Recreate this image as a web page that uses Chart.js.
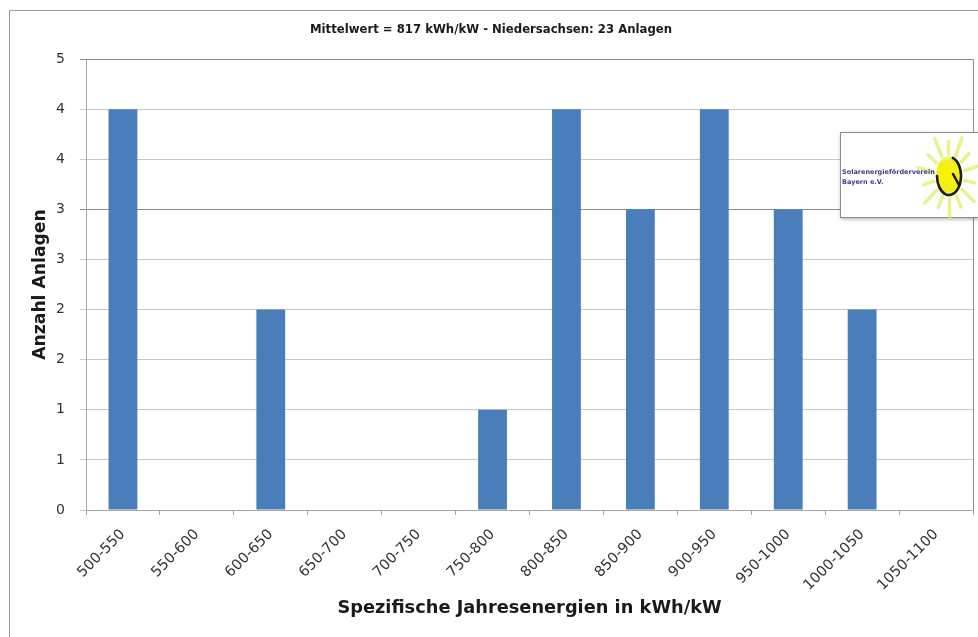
<!DOCTYPE html>
<html>
<head>
<meta charset="utf-8">
<script src="https://cdn.jsdelivr.net/npm/chart.js@4.4.0/dist/chart.umd.min.js"></script>
<style>
  html, body { margin: 0; padding: 0; background: #ffffff; }
  #wrap { width: 978px; height: 637px; position: relative; }
</style>
</head>
<body>
<div id="wrap"><canvas id="c" width="978" height="637"></canvas></div>
<script>
// Verteilung der spezifischen Jahreserträge
const categories = ['500-550', '550-600', '600-650', '650-700', '700-750', '750-800',
                    '800-850', '850-900', '900-950', '950-1000', '1000-1050', '1050-1100'];
const anlagen = [4, 0, 2, 0, 0, 1, 4, 3, 4, 3, 2, 0];
const yTickLabels = ['0', '1', '1', '2', '2', '3', '3', '4', '4', '5'];
const chartTitle = 'Mittelwert = 817 kWh/kW - Niedersachsen: 23 Anlagen';
const xTitle = 'Spezifische Jahresenergien in kWh/kW';
const yTitle = 'Anzahl Anlagen';
const logoLines = ['Solarenergieförderverein', 'Bayern e.V.'];

const FONT = '"DejaVu Sans", "Open Sans", sans-serif';

// Rahmen um das Diagramm und die Zeichenfläche
const framePlugin = {
  id: 'frame',
  beforeDraw(chart) {
    const ctx = chart.ctx;
    ctx.save();
    ctx.fillStyle = '#ffffff';
    ctx.fillRect(0, 0, chart.width, chart.height);
    ctx.strokeStyle = '#9a9a9a';
    ctx.lineWidth = 1;
    ctx.strokeRect(9.5, 10.5, chart.width + 20, chart.height + 20);
    ctx.restore();
  },
  afterDraw(chart) {
    const ctx = chart.ctx;
    const a = chart.chartArea;
    ctx.save();
    ctx.strokeStyle = '#8c8c8c';
    ctx.lineWidth = 1;
    ctx.beginPath();
    ctx.moveTo(a.left, Math.round(a.top) + 0.5);
    ctx.lineTo(Math.round(a.right) + 0.5, Math.round(a.top) + 0.5);
    ctx.lineTo(Math.round(a.right) + 0.5, a.bottom);
    ctx.stroke();
    ctx.restore();
  }
};

// Vereinslogo rechts oben
const logoPlugin = {
  id: 'logo',
  afterDraw(chart) {
    const ctx = chart.ctx;
    const x = 840, y = 132, w = 140, h = 85;
    ctx.save();
    ctx.shadowColor = 'rgba(0,0,0,0.35)';
    ctx.shadowBlur = 4;
    ctx.shadowOffsetX = 1;
    ctx.shadowOffsetY = 2;
    ctx.fillStyle = '#ffffff';
    ctx.fillRect(x, y, w, h);
    ctx.shadowColor = 'transparent';
    ctx.strokeStyle = '#8a8a8a';
    ctx.lineWidth = 1;
    ctx.strokeRect(x + 0.5, y + 0.5, w, h);

    // Sonne mit Strahlen
    const cx = 949, cy = 176;
    ctx.strokeStyle = 'rgba(222, 240, 90, 0.7)';
    ctx.lineCap = 'round';
    for (let i = 0; i < 14; i++) {
      const ang = (i / 14) * Math.PI * 2 + 0.2;
      const ex = Math.cos(ang), ey = Math.sin(ang);
      const r2 = 1.45 + (i % 2) * 0.3;
      ctx.lineWidth = 3.5;
      ctx.beginPath();
      ctx.moveTo(cx + ex * 16, cy + ey * 22);
      ctx.lineTo(cx + ex * 18 * r2, cy + ey * 24 * r2);
      ctx.stroke();
    }
    const g = ctx.createRadialGradient(cx - 2, cy, 2, cx, cy, 20);
    g.addColorStop(0, '#f8f400');
    g.addColorStop(0.75, '#f0ee20');
    g.addColorStop(1, 'rgba(230,240,80,0.5)');
    ctx.fillStyle = g;
    ctx.beginPath();
    ctx.ellipse(cx, cy, 13, 20, 0, 0, Math.PI * 2);
    ctx.fill();
    ctx.strokeStyle = '#1e1e1e';
    ctx.lineWidth = 2.6;
    ctx.beginPath();
    ctx.ellipse(cx, cy, 12, 19, 0, -1.25, Math.PI * 1.0);
    ctx.stroke();
    ctx.beginPath();
    ctx.moveTo(cx + 4, cy - 2);
    ctx.lineTo(cx + 10, cy + 9);
    ctx.stroke();

    // Schriftzug
    ctx.fillStyle = '#3c3c8c';
    ctx.font = 'bold 6.5px ' + FONT;
    ctx.textAlign = 'left';
    ctx.textBaseline = 'middle';
    ctx.fillText(logoLines[0], x + 2, 172);
    ctx.fillText(logoLines[1], x + 2, 182);
    ctx.restore();
  }
};

new Chart(document.getElementById('c'), {
  type: 'bar',
  data: {
    labels: categories,
    datasets: [{
      data: anlagen,
      backgroundColor: '#4a7ebb',
      borderWidth: 0,
      barPercentage: 0.78,
      categoryPercentage: 0.5
    }]
  },
  options: {
    responsive: false,
    animation: false,
    devicePixelRatio: 1,
    layout: { padding: { left: 9, right: 5, top: 10, bottom: 0 } },
    plugins: {
      legend: { display: false },
      tooltip: { enabled: false },
      title: {
        display: true,
        text: chartTitle,
        color: '#1a1a1a',
        font: { family: FONT, size: 11.7, weight: 'bold' },
        padding: { top: 13, bottom: 22 }
      }
    },
    scales: {
      x: {
        grid: {
          display: true,
          drawOnChartArea: false,
          drawTicks: true,
          tickLength: 5,
          offset: true,
          color: '#a6a6a6'
        },
        border: { display: true, color: '#a6a6a6' },
        ticks: {
          color: '#333333',
          font: { family: FONT, size: 14.5 },
          maxRotation: 45,
          minRotation: 45,
          autoSkip: false,
          padding: 11
        },
        title: {
          display: true,
          text: xTitle,
          color: '#1a1a1a',
          font: { family: FONT, size: 17.8, weight: 'bold' },
          padding: { top: 0, bottom: 18 }
        },
        afterFit(scale) { scale.height = 127; }
      },
      y: {
        min: 0,
        max: 4.5,
        grid: {
          color(ctx) {
            const v = ctx.tick ? ctx.tick.value : 0;
            if (v === 3) return '#8c8c8c';
            if (v === 4.5) return '#8c8c8c';
            return '#c8c8c8';
          },
          tickLength: 6
        },
        border: { display: true, color: '#a6a6a6' },
        ticks: {
          stepSize: 0.5,
          color: '#333333',
          font: { family: FONT, size: 14 },
          padding: 15,
          callback(value, index) { return yTickLabels[index]; }
        },
        title: {
          display: true,
          text: yTitle,
          color: '#1a1a1a',
          font: { family: FONT, size: 17.2, weight: 'bold' },
          padding: { top: 21, bottom: 0 }
        },
        afterFit(scale) { scale.width = 77; }
      }
    }
  },
  plugins: [framePlugin, logoPlugin]
});
</script>
</body>
</html>
